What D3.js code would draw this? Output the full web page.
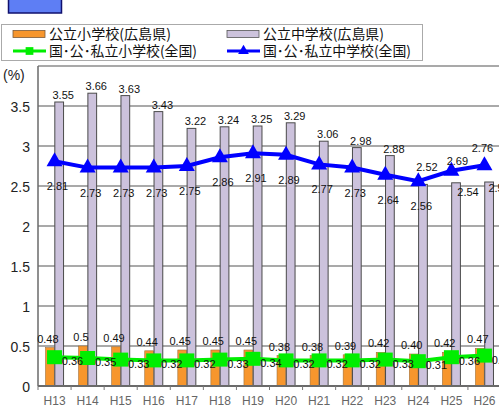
<!DOCTYPE html>
<html>
<head>
<meta charset="utf-8">
<script src="https://cdn.jsdelivr.net/npm/d3@7"></script>
<style>
  body { margin: 0; background: #fff; }
  #chart { width: 499px; height: 407px; overflow: hidden; }
</style>
</head>
<body>
<div id="chart"></div>
<script>
// DATA

const categories = ["H13", "H14", "H15", "H16", "H17", "H18", "H19", "H20", "H21", "H22", "H23", "H24", "H25", "H26"];
const elemHiroshima = ["0.48", "0.5", "0.49", "0.44", "0.45", "0.45", "0.45", "0.38", "0.38", "0.39", "0.42", "0.40", "0.42", "0.47"];
const juniorHiroshima = ["3.55", "3.66", "3.63", "3.43", "3.22", "3.24", "3.25", "3.29", "3.06", "2.98", "2.88", "2.52", "2.54", "2.55"];
const elemNational = ["0.36", "0.35", "0.33", "0.32", "0.32", "0.33", "0.34", "0.32", "0.32", "0.32", "0.33", "0.31", "0.36", "0.38"];
const juniorNational = ["2.81", "2.73", "2.73", "2.73", "2.75", "2.86", "2.91", "2.89", "2.77", "2.73", "2.64", "2.56", "2.69", "2.76"];
const yTicks = [0, 0.5, 1, 1.5, 2, 2.5, 3, 3.5];
const gridLines = [0.5, 1, 1.5, 2, 2.5, 3, 3.5, 4];
const legendNames = ["公立小学校(広島県)", "公立中学校(広島県)", "国･公･私立小学校(全国)", "国･公･私立中学校(全国)"];

// SVG CANVAS

const width = 499;
const height = 407;
const plot = {left: 38, right: 501, top: 66, bottom: 386};

const svg = d3.select("#chart")
    .append("svg")
    .attr("width", width)
    .attr("height", height)
    .style("font-family", "'Liberation Sans', Arial, sans-serif");

// SCALES

const x0 = d3.scaleBand()
    .domain(categories)
    .range([plot.left, plot.right])
    .paddingInner(0.455)
    .paddingOuter(0.2275);

const x1 = d3.scaleBand()
    .domain(["elem", "junior"])
    .range([0, x0.bandwidth()])
    .paddingInner(0.06);

const yScale = d3.scaleLinear()
    .domain([0, 4])
    .range([plot.bottom, plot.top]);

const cx = function(c) { return x0(c) + x0.bandwidth() / 2; };

// TITLE BOX (top left)

svg.append("rect")
    .attr("x", 8.5).attr("y", -2)
    .attr("width", 53).attr("height", 15)
    .attr("fill", "#5e7ef4")
    .attr("stroke", "#10106e")
    .attr("stroke-width", 1.5);

// LEGEND

const legend = svg.append("g");

legend.append("rect")
    .attr("x", 1.5).attr("y", 24.5)
    .attr("width", 421).attr("height", 36)
    .attr("fill", "white")
    .attr("stroke", "#aaa");

const legendItems = [
    {name: legendNames[0], x: 13, y: 34, len: 122, type: "bar", fill: "#f7962d", stroke: "#7a5a3a"},
    {name: legendNames[1], x: 227, y: 34, len: 121, type: "bar", fill: "#ccc2dc", stroke: "#555"},
    {name: legendNames[2], x: 13, y: 51, len: 148, type: "line", color: "#00ee00", marker: "square"},
    {name: legendNames[3], x: 227, y: 51, len: 148, type: "line", color: "#0000ff", marker: "triangle"}
];

legendItems.forEach(function(d) {
    if (d.type === "bar") {
        legend.append("rect")
            .attr("x", d.x).attr("y", d.y - 3.5)
            .attr("width", 32).attr("height", 7)
            .attr("fill", d.fill)
            .attr("stroke", d.stroke)
            .attr("stroke-width", 0.8);
    } else {
        legend.append("line")
            .attr("x1", d.x).attr("x2", d.x + 33)
            .attr("y1", d.y).attr("y2", d.y)
            .attr("stroke", d.color)
            .attr("stroke-width", 3);
        legend.append("path")
            .attr("transform", `translate(${d.x + 16.5},${d.y})`)
            .attr("d", d3.symbol().type(d.marker === "square" ? d3.symbolSquare : d3.symbolTriangle).size(d.marker === "square" ? 60 : 50))
            .attr("fill", d.color);
    }
    legend.append("text")
        .attr("x", d.x + 36)
        .attr("y", d.y + 5)
        .attr("font-family", "'Noto Sans CJK JP', sans-serif")
        .attr("font-size", 14)
        .attr("textLength", d.len)
        .attr("lengthAdjust", "spacingAndGlyphs")
        .attr("fill", "#111")
        .text(d.name);
});

// GRIDLINES

const g = svg.append("g");

g.selectAll(".grid")
    .data(gridLines)
    .enter()
    .append("line")
        .attr("x1", plot.left).attr("x2", width)
        .attr("y1", function(d) { return yScale(d); })
        .attr("y2", function(d) { return yScale(d); })
        .attr("stroke", "#8c8c8c")
        .attr("stroke-width", 1.3);

// Y AXIS

const yAxis = g.append("g")
    .attr("transform", `translate(${plot.left},0)`)
    .call(d3.axisLeft(yScale).tickValues(yTicks).tickFormat(d3.format("~g")).tickSize(0).tickPadding(8));

yAxis.select(".domain").remove();
yAxis.selectAll("text")
    .attr("font-size", 14)
    .attr("font-family", "'Liberation Sans', Arial, sans-serif")
    .attr("fill", "#222")
    .attr("dy", "0.36em");

g.append("line")
    .attr("x1", plot.left).attr("x2", plot.left)
    .attr("y1", plot.top).attr("y2", plot.bottom)
    .attr("stroke", "#6a6a6a")
    .attr("stroke-width", 1.5);

svg.append("text")
    .attr("x", 3)
    .attr("y", 80)
    .attr("font-size", 14)
    .attr("fill", "#222")
    .text("(%)");

// BARS

g.selectAll(".elemBar")
    .data(categories)
    .enter()
    .append("rect")
        .attr("x", function(d) { return x0(d) + x1("elem"); })
        .attr("y", function(d, i) { return yScale(+elemHiroshima[i]); })
        .attr("width", x1.bandwidth())
        .attr("height", function(d, i) { return plot.bottom - yScale(+elemHiroshima[i]); })
        .attr("fill", "#f7962d")
        .attr("stroke", "#a0703a")
        .attr("stroke-width", 0.6);

g.selectAll(".juniorBar")
    .data(categories)
    .enter()
    .append("rect")
        .attr("x", function(d) { return x0(d) + x1("junior"); })
        .attr("y", function(d, i) { return yScale(+juniorHiroshima[i]); })
        .attr("width", x1.bandwidth())
        .attr("height", function(d, i) { return plot.bottom - yScale(+juniorHiroshima[i]); })
        .attr("fill", "#ccc2dc")
        .attr("stroke", "#4a4a4a")
        .attr("stroke-width", 1);

// X AXIS

g.append("line")
    .attr("x1", plot.left).attr("x2", width)
    .attr("y1", plot.bottom).attr("y2", plot.bottom)
    .attr("stroke", "#6a6a6a")
    .attr("stroke-width", 2);

g.selectAll(".sep")
    .data(categories)
    .enter()
    .append("line")
        .attr("x1", function(d) { return x0(d) - (x0.step() - x0.bandwidth()) / 2; })
        .attr("x2", function(d) { return x0(d) - (x0.step() - x0.bandwidth()) / 2; })
        .attr("y1", plot.bottom).attr("y2", plot.bottom + 4)
        .attr("stroke", "#777");

const xAxis = g.append("g")
    .attr("transform", `translate(0,${plot.bottom})`)
    .call(d3.axisBottom(x0).tickSize(0).tickPadding(10));

xAxis.select(".domain").remove();
xAxis.selectAll("text")
    .attr("font-size", 12)
    .attr("font-family", "'Liberation Sans', Arial, sans-serif")
    .attr("fill", "#666");

// LINES

const line = d3.line()
    .x(function(d) { return cx(d.c); })
    .y(function(d) { return yScale(+d.v); });

const greenPts = categories.map(function(c, i) { return {c: c, v: elemNational[i]}; });
const bluePts = categories.map(function(c, i) { return {c: c, v: juniorNational[i]}; });

g.append("path")
    .datum(greenPts)
    .attr("d", line)
    .attr("fill", "none")
    .attr("stroke", "#00ee00")
    .attr("stroke-width", 4);

g.selectAll(".greenMark")
    .data(greenPts)
    .enter()
    .append("rect")
        .attr("x", function(d) { return cx(d.c) - 7.5; })
        .attr("y", function(d) { return yScale(+d.v) - 7; })
        .attr("width", 15).attr("height", 14)
        .attr("fill", "#00ee00");

g.append("path")
    .datum(bluePts)
    .attr("d", line)
    .attr("fill", "none")
    .attr("stroke", "#0000ff")
    .attr("stroke-width", 4);

g.selectAll(".blueMark")
    .data(bluePts)
    .enter()
    .append("path")
        .attr("transform", function(d) { return `translate(${cx(d.c)},${yScale(+d.v) - 1})`; })
        .attr("d", "M0,-8L8,6L-8,6Z")
        .attr("fill", "#0000ff");

// DATA LABELS

const labels = svg.append("g")
    .attr("font-size", 11)
    .attr("fill", "#111")
    .attr("text-anchor", "middle");

// manual nudges where labels were moved in the original
const juniorNudge = {H24: [0, -10], H25: [8, 16], H26: [6, 13]};
const blueNudge = {H25: [3, -35], H26: [-5, -42]};

labels.selectAll(".elemLabel")
    .data(categories)
    .enter()
    .append("text")
        .attr("x", function(d) { return x0(d) + x1("elem") + x1.bandwidth() / 2 - 2; })
        .attr("y", function(d, i) { return yScale(+elemHiroshima[i]) - 5; })
        .text(function(d, i) { return elemHiroshima[i]; });

labels.selectAll(".juniorLabel")
    .data(categories)
    .enter()
    .append("text")
        .attr("x", function(d) { return x0(d) + x1("junior") + x1.bandwidth() / 2 + 4 + (juniorNudge[d] ? juniorNudge[d][0] : 0); })
        .attr("y", function(d, i) { return yScale(+juniorHiroshima[i]) - 3 + (juniorNudge[d] ? juniorNudge[d][1] : 0); })
        .text(function(d, i) { return juniorHiroshima[i]; });

labels.selectAll(".greenLabel")
    .data(greenPts)
    .enter()
    .append("text")
        .attr("x", function(d) { return cx(d.c) + 18; })
        .attr("y", function(d) { return yScale(+d.v) + 8; })
        .text(function(d) { return d.v; });

labels.selectAll(".blueLabel")
    .data(bluePts)
    .enter()
    .append("text")
        .attr("x", function(d) { return cx(d.c) + 3 + (blueNudge[d.c] ? blueNudge[d.c][0] : 0); })
        .attr("y", function(d) { return yScale(+d.v) + 29 + (blueNudge[d.c] ? blueNudge[d.c][1] : 0); })
        .text(function(d) { return d.v; });
</script>
</body>
</html>
